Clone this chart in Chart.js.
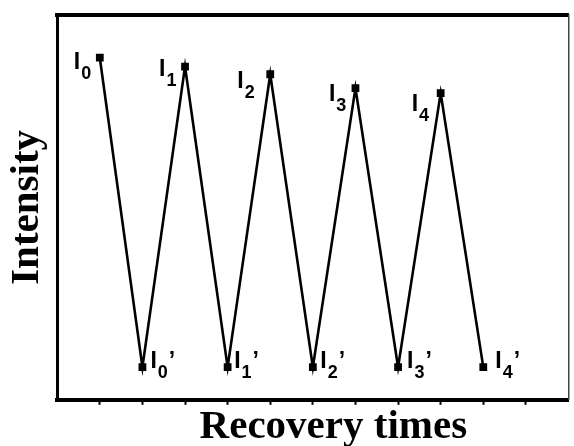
<!DOCTYPE html>
<html>
<head>
<meta charset="utf-8">
<script src="https://cdn.jsdelivr.net/npm/chart.js@4"></script>
<style>
  html, body { margin: 0; padding: 0; background: #fff; }
</style>
</head>
<body>
<canvas id="cycleChart" width="574" height="446"></canvas>
<script>
// recovery cycles: peak (I_n) then quenched value (I_n')
let cycleX = [0.5, 1, 1.5, 2, 2.5, 3, 3.5, 4, 4.5, 5]
let intensity = [88.9, 8.5, 86.6, 8.5, 84.6, 8.5, 81.0, 8.5, 79.7, 8.5]
let labelBase = ['I', 'I', 'I', 'I', 'I', 'I', 'I', 'I', 'I', 'I']
let labelSub = ['0', '0', '1', '1', '2', '2', '3', '3', '4', '4']
let labelPrime = ['', '\u2019', '', '\u2019', '', '\u2019', '', '\u2019', '', '\u2019']

// where each label sits relative to its point (dx to left of "I", dy to baseline)
let labelOffsets = [
    [-26, 11], [8, 1], [-26, 9], [6.5, 1], [-33, 14],
    [7.5, 1], [-26.5, 13], [9, 1], [-29, 18], [12, 1]
]

const pointLabels = {
    id: 'pointLabels',
    afterDatasetsDraw(chart) {
        const ctx = chart.ctx
        const meta = chart.getDatasetMeta(0)
        ctx.save()
        ctx.fillStyle = '#000'
        ctx.textAlign = 'left'
        ctx.textBaseline = 'alphabetic'
        meta.data.forEach((pt, i) => {
            let x = pt.x + labelOffsets[i][0]
            let y = pt.y + labelOffsets[i][1]
            ctx.font = 'bold 23px "Liberation Sans", Arial, sans-serif'
            ctx.fillText(labelBase[i], x, y)
            x += ctx.measureText(labelBase[i]).width + 1
            ctx.font = 'bold 18px "Liberation Sans", Arial, sans-serif'
            ctx.fillText(labelSub[i], x, y + 10)
            x += ctx.measureText(labelSub[i]).width
            if (labelPrime[i]) {
                ctx.font = 'bold 23px "Liberation Sans", Arial, sans-serif'
                ctx.fillText(labelPrime[i], x + 1, y)
            }
        })
        ctx.restore()
    }
}

const titleFont = { family: '"Liberation Serif", "Times New Roman", serif', size: 41, weight: 'bold' }

new Chart(document.getElementById('cycleChart').getContext('2d'), {
    type: 'line',
    data: {
        datasets: [{
            data: cycleX.map((x, i) => ({ x: x, y: intensity[i] })),
            borderColor: '#000',
            borderWidth: 2.6,
            tension: 0,
            pointStyle: 'rect',
            pointRadius: 5.5,
            pointBackgroundColor: '#000',
            pointBorderWidth: 0,
            fill: false
        }]
    },
    options: {
        responsive: false,
        animation: false,
        layout: { padding: { top: 7, right: -5, left: -8, bottom: -8 } },
        plugins: {
            legend: { display: false },
            tooltip: { enabled: false }
        },
        scales: {
            x: {
                type: 'linear',
                position: 'bottom',
                min: 0,
                max: 6,
                ticks: { display: false, stepSize: 0.5 },
                grid: {
                    drawOnChartArea: false,
                    drawTicks: true,
                    tickLength: 5,
                    tickWidth: 2,
                    tickColor: c => (c.tick && (c.tick.value === 0 || c.tick.value === 6)) ? 'rgba(0,0,0,0)' : '#000'
                },
                border: { display: true, color: '#000', width: 4 },
                title: {
                    display: true,
                    text: '\u00a0\u00a0\u00a0\u00a0Recovery times',
                    color: '#000',
                    font: titleFont,
                    padding: { top: -2, bottom: 2 }
                }
            },
            xTop: {
                type: 'linear',
                position: 'top',
                min: 0,
                max: 6,
                ticks: { display: false },
                grid: { display: false },
                border: { display: true, color: '#000', width: 4 }
            },
            y: {
                type: 'linear',
                min: 0,
                max: 100,
                ticks: { display: false },
                grid: { display: false },
                border: { display: true, color: '#000', width: 3 },
                title: {
                    display: true,
                    text: 'Intensity',
                    color: '#000',
                    font: titleFont,
                    padding: { top: 11, bottom: -3 }
                }
            },
            yRight: {
                type: 'linear',
                position: 'right',
                min: 0,
                max: 100,
                ticks: { display: false },
                grid: { display: false },
                border: { display: true, color: '#444', width: 1.5 }
            }
        }
    },
    plugins: [pointLabels]
});
</script>
</body>
</html>
